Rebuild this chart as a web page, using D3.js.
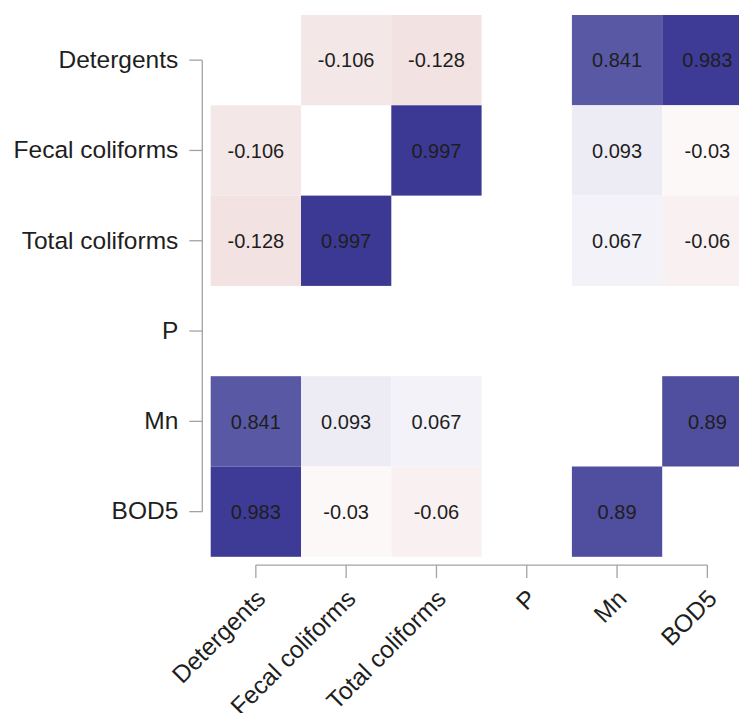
<!DOCTYPE html>
<html>
<head>
<meta charset="utf-8">
<script src="https://cdn.jsdelivr.net/npm/d3@7"></script>
<style>
  html, body { margin: 0; padding: 0; background: #ffffff; }
  svg { display: block; }
</style>
</head>
<body>
<svg id="chart" width="739" height="713"></svg>
<script>
// ---- data ----
const variables = ["Detergents", "Fecal coliforms", "Total coliforms", "P", "Mn", "BOD5"];
const corrDetergents = [null, -0.106, -0.128, null, 0.841, 0.983];
const corrFecal      = [-0.106, null, 0.997, null, 0.093, -0.03];
const corrTotal      = [-0.128, 0.997, null, null, 0.067, -0.06];
const corrP          = [null, null, null, null, null, null];
const corrMn         = [0.841, 0.093, 0.067, null, null, 0.89];
const corrBOD5       = [0.983, -0.03, -0.06, null, 0.89, null];
const corrRows = [corrDetergents, corrFecal, corrTotal, corrP, corrMn, corrBOD5];

// ---- layout ----
const svg = d3.select("#chart");
const gridLeft = 210.7, gridTop = 15, cell = 90.3;
const n = variables.length;

const x = d3.scaleBand().domain(variables).range([gridLeft, gridLeft + cell * n]).padding(0);
const y = d3.scaleBand().domain(variables).range([gridTop, gridTop + cell * n]).padding(0);

const color = d3.scaleLinear()
  .domain([-1, 0, 1])
  .range(["#961c1c", "#ffffff", "#3a3893"])
  .interpolate(d3.interpolateRgb);

const cells = [];
corrRows.forEach((row, i) => {
  row.forEach((v, j) => {
    if (v !== null) cells.push({ r: variables[i], c: variables[j], v: v });
  });
});

const g = svg.append("g");
g.selectAll("rect.cell").data(cells).enter().append("rect")
  .attr("class", "cell")
  .attr("x", d => x(d.c))
  .attr("y", d => y(d.r))
  .attr("width", x.bandwidth())
  .attr("height", y.bandwidth())
  .attr("fill", d => color(d.v));

g.selectAll("text.val").data(cells).enter().append("text")
  .attr("class", "val")
  .attr("x", d => x(d.c) + x.bandwidth() / 2)
  .attr("y", d => y(d.r) + y.bandwidth() / 2)
  .attr("dy", "0.36em")
  .attr("text-anchor", "middle")
  .attr("font-family", "Liberation Sans, Arial, sans-serif")
  .attr("font-size", "20px")
  .attr("fill", "#1e1e1e")
  .text(d => String(d.v));

// ---- axes (R base style: line spans first to last tick) ----
const axisColor = "#a3a3a3";
const labelFont = "Liberation Sans, Arial, sans-serif";
const labelSize = "24.5px";
const yAxisX = gridLeft - 8.4;
const xAxisY = gridTop + cell * n + 8.3;
const tickLen = 13;

// y axis
const yAxisG = svg.append("g")
  .attr("transform", `translate(${yAxisX},0)`)
  .call(d3.axisLeft(y).tickSize(tickLen).tickPadding(11));
yAxisG.select(".domain").remove();
yAxisG.selectAll(".tick line").attr("stroke", axisColor).attr("stroke-width", 1.3);
yAxisG.selectAll(".tick text")
  .attr("font-family", labelFont).attr("font-size", labelSize).attr("fill", "#1e1e1e");
yAxisG.append("line")
  .attr("x1", 0).attr("x2", 0)
  .attr("y1", y(variables[0]) + y.bandwidth() / 2)
  .attr("y2", y(variables[n - 1]) + y.bandwidth() / 2)
  .attr("stroke", axisColor).attr("stroke-width", 1.3);

// x axis
const xAxisG = svg.append("g")
  .attr("transform", `translate(0,${xAxisY})`)
  .call(d3.axisBottom(x).tickSize(tickLen));
xAxisG.select(".domain").remove();
xAxisG.selectAll(".tick line").attr("stroke", axisColor).attr("stroke-width", 1.3);
xAxisG.selectAll(".tick text")
  .attr("font-family", labelFont).attr("font-size", labelSize).attr("fill", "#1e1e1e")
  .attr("text-anchor", "end")
  .attr("x", 0).attr("y", 0)
  .attr("dy", "0.35em")
  .attr("transform", `translate(5,${594 - xAxisY}) rotate(-45)`);
xAxisG.append("line")
  .attr("y1", 0).attr("y2", 0)
  .attr("x1", x(variables[0]) + x.bandwidth() / 2)
  .attr("x2", x(variables[n - 1]) + x.bandwidth() / 2)
  .attr("stroke", axisColor).attr("stroke-width", 1.3);
</script>
</body>
</html>
